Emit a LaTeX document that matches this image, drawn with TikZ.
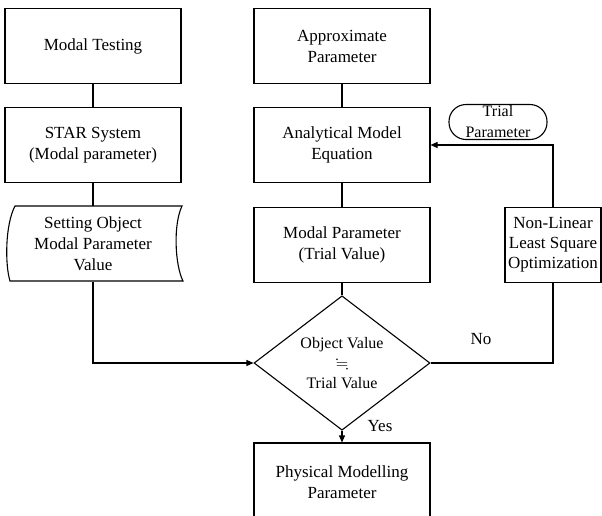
\documentclass[tikz,border=0pt]{standalone}
\usepackage{amssymb}
\usepackage{fontspec}
\setmainfont{Liberation Serif}
\usetikzlibrary{arrows.meta,shapes.geometric}

\begin{document}
\begin{tikzpicture}[x=1pt,y=-1pt,line width=1.1pt,
    font=\fontsize{17}{21}\selectfont,
    >={Triangle[length=7pt,width=6pt]}]

        \useasboundingbox (0,0) rectangle (602,515);
        \clip (0,0) rectangle (602,515);

        \begin{scope}[every node/.style={rectangle,draw,align=center,
            minimum width=176pt,minimum height=75pt,inner sep=2pt}]
          \node (test)   at (93,46)   {Modal Testing};
          \node (star)   at (93,145)  {STAR System\\(Modal parameter)};
          \node (approx) at (342,46)  {Approximate\\Parameter};
          \node (model)  at (342,145) {Analytical Model\\Equation};
          \node (trial)  at (342,245) {Modal Parameter\\(Trial Value)};
          \node (nonlin) at (553,245) [minimum width=96pt,
            font=\fontsize{17}{20}\selectfont] {Non-Linear\\Least Square\\Optimization};
          \node (phys)   at (342,482) [minimum height=78pt] {Physical Modelling\\Parameter};
        \end{scope}

        % stored data shape
        \node (setting) at (93,244) [align=center,minimum width=170pt,minimum height=75pt]
          {Setting Object\\Modal Parameter\\Value};
        \draw (15,206) .. controls (5,225) and (5,265) .. (10,281) -- (183,281)
          .. controls (175,265) and (173,225) .. (182,206) -- cycle;

        \node (check) at (342,363) [diamond,draw,align=center,inner sep=0pt,
          minimum width=176pt,minimum height=110pt,
          font=\fontsize{16}{20}\selectfont]
          {Object Value\\$\fallingdotseq$\\Trial Value};

        \node (tpar) at (498,122) [draw,rounded corners=17pt,
          minimum width=98pt,minimum height=35pt] {};
        \node at (tpar) [align=center,font=\fontsize{16}{21}\selectfont] {Trial\\Parameter};

        \node (no)  at (481,339) {No};
        \node (yes) at (380,426) {Yes};

        \begin{scope}[every edge/.style={draw}]
          \path (test)   edge (star);
          \path (star)   edge (setting.north);
          \path (approx) edge (model);
          \path (model)  edge (trial);
          \path (trial)  edge (check);
          \path (check)  edge[->] (phys);
        \end{scope}

        \draw[->] (setting.south) |- (check.west);
        \draw (check.east) -| (nonlin.south);
        \draw[->] (nonlin.north) |- (model.east);

      \end{tikzpicture}
\end{document}
